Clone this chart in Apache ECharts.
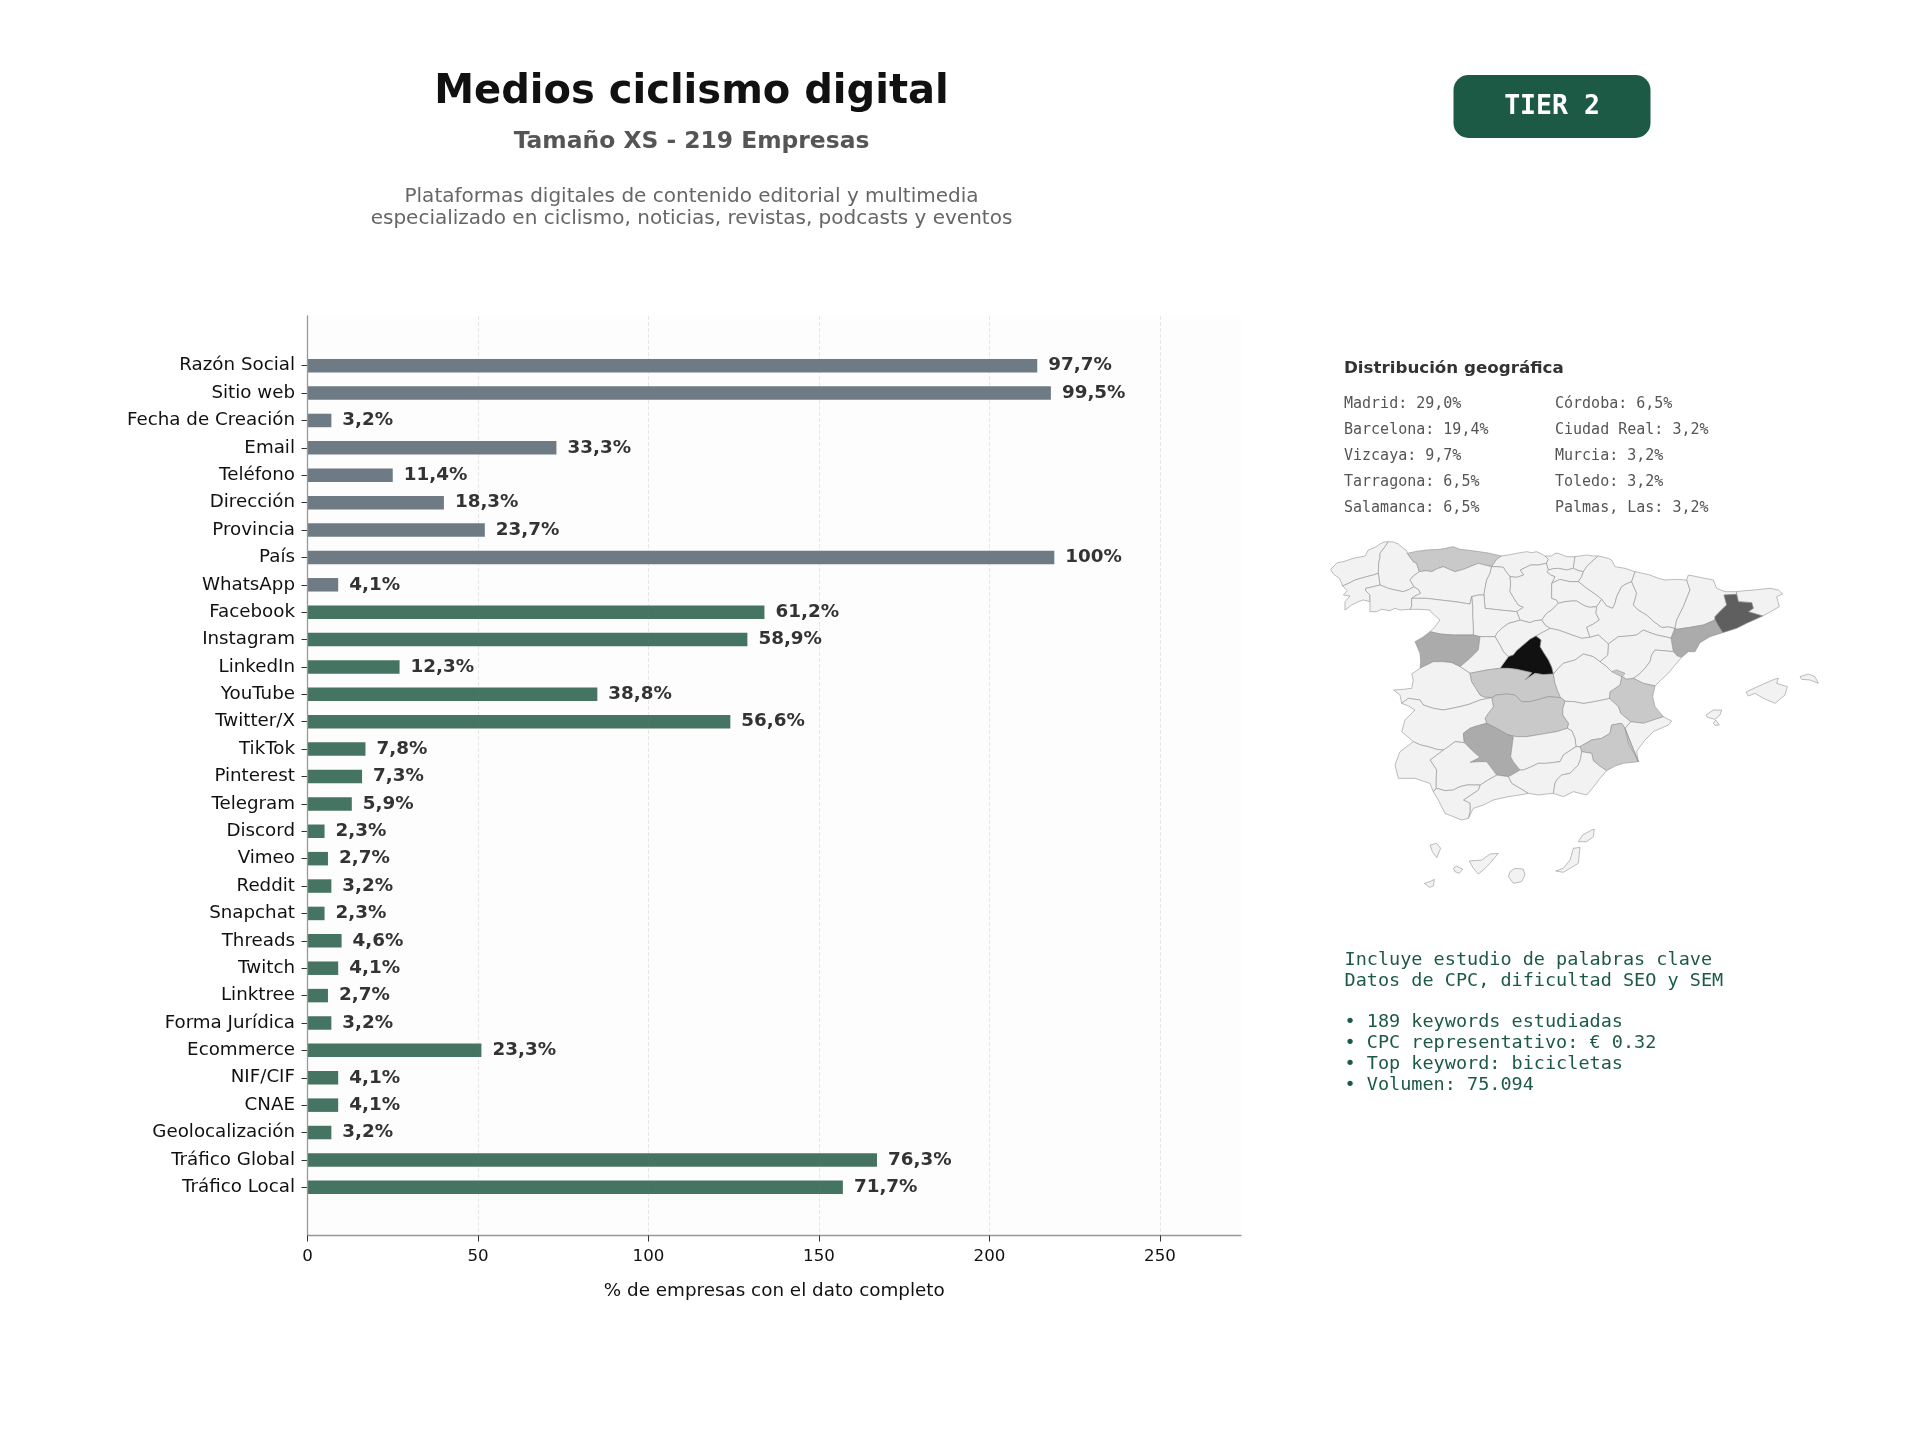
<!DOCTYPE html>
<html>
<head>
<meta charset="utf-8">
<title>Medios ciclismo digital</title>
<style>html,body{margin:0;padding:0;background:#fff}#chart{width:1920px;height:1440px}</style>
<script src="https://cdn.jsdelivr.net/npm/echarts@6/dist/echarts.min.js"></script>
</head>
<body>
<div id="chart"></div>
<script>
// Company counts per data field, out of 219 companies.
const categories = ['Razón Social','Sitio web','Fecha de Creación','Email','Teléfono','Dirección','Provincia','País','WhatsApp','Facebook','Instagram','LinkedIn','YouTube','Twitter/X','TikTok','Pinterest','Telegram','Discord','Vimeo','Reddit','Snapchat','Threads','Twitch','Linktree','Forma Jurídica','Ecommerce','NIF/CIF','CNAE','Geolocalización','Tráfico Global','Tráfico Local'];
const counts = [214,218,7,73,25,40,52,219,9,134,129,27,85,124,17,16,13,5,6,7,5,10,9,6,7,51,9,9,7,167,157];
const percentLabels = ['97,7%','99,5%','3,2%','33,3%','11,4%','18,3%','23,7%','100%','4,1%','61,2%','58,9%','12,3%','38,8%','56,6%','7,8%','7,3%','5,9%','2,3%','2,7%','3,2%','2,3%','4,6%','4,1%','2,7%','3,2%','23,3%','4,1%','4,1%','3,2%','76,3%','71,7%'];
const contactFieldCount = 9; // the first rows are contact fields, drawn in slate
const xTicks = [0,50,100,150,200,250];
const xMax = 273.75;

const geoHeading = 'Distribución geográfica';
const geoColumnA = ['Madrid: 29,0%','Barcelona: 19,4%','Vizcaya: 9,7%','Tarragona: 6,5%','Salamanca: 6,5%'];
const geoColumnB = ['Córdoba: 6,5%','Ciudad Real: 3,2%','Murcia: 3,2%','Toledo: 3,2%','Palmas, Las: 3,2%'];
const keywordNotes = ['Incluye estudio de palabras clave','Datos de CPC, dificultad SEO y SEM','','• 189 keywords estudiadas','• CPC representativo: € 0.32','• Top keyword: bicicletas','• Volumen: 75.094'];

// Share of companies by province as shaded on the map.
const mapShares = {Madrid:29, Barcelona:19.4, Tarragona:6.5, Salamanca:6.5, 'Córdoba':6.5, 'Ciudad Real':3.2, Murcia:3.2, Toledo:3.2, Asturias:3.2, Valencia:3.2};

// Hand-traced map geometry: every shared boundary is stored once and reused by both neighbours.
// Drawing frame has x to the right and y downward, three units to a page pixel.
const borderLines = {
  cor_sea:[[265,65],[252,66],[240,72],[225,82],[205,90],[195,108],[175,112],[160,115],[130,125],[112,128],[92,148],[100,162],[118,175],[125,190],[128,198]],
  cor_pon:[[128,198],[150,188],[165,180],[200,170],[220,165],[235,160]],
  cor_lug:[[235,160],[236,130],[240,112],[240,100],[255,80],[265,65]],
  lug_nor:[[265,65],[280,66],[295,72],[310,85],[320,92],[322,100]],
  lug_ast:[[322,100],[340,125],[350,130],[358,155]],
  lug_leo:[[358,155],[340,168],[330,180],[342,200]],
  lug_our:[[240,195],[265,205],[285,210],[310,215],[328,208],[342,200]],
  lug_pon:[[235,160],[240,195]],
  pon_our:[[210,245],[210,225],[197,212],[197,205],[220,200],[240,195]],
  pon_sea:[[210,245],[190,240],[175,245],[155,255],[135,270],[135,245],[150,228],[130,225],[142,212],[128,198]],
  leo_our:[[342,200],[355,208],[362,220],[345,228],[335,235]],
  our_zam:[[335,235],[335,258],[330,268]],
  our_sea:[[330,268],[300,270],[285,265],[270,272],[245,268],[230,275],[210,275],[210,245]],
  ast_nor:[[322,100],[350,94],[380,90],[420,88],[460,80],[480,88],[500,90],[530,94],[560,98],[605,108]],
  ast_can:[[575,140],[590,118],[605,108]],
  ast_leo:[[358,155],[380,152],[395,155],[412,146],[430,140],[448,148],[465,155],[490,148],[510,140],[535,130],[555,135],[575,140]],
  can_nor:[[605,108],[630,104],[650,100],[680,95],[695,98],[710,95],[725,102],[735,108]],
  can_viz:[[735,108],[745,118],[739,130]],
  can_bur:[[630,170],[650,172],[671,165],[661,150],[692,135],[715,135],[739,130]],
  can_pal:[[575,140],[590,140],[610,142],[618,155],[630,170]],
  leo_pal:[[575,140],[570,160],[560,180],[555,205],[552,225]],
  leo_val:[[552,225],[535,225],[515,230]],
  leo_zam:[[515,230],[510,252],[465,245],[420,240],[380,235],[335,235]],
  pal_bur:[[630,170],[632,190],[630,215],[645,240],[655,255],[670,262],[650,275]],
  pal_val:[[552,225],[555,265],[600,270],[650,275]],
  viz_nor:[[735,108],[755,108],[765,100],[775,100],[800,110],[825,110]],
  viz_gui:[[825,110],[822,130],[820,145]],
  viz_ala:[[745,150],[760,146],[775,145],[800,150],[820,145]],
  viz_bur:[[739,130],[745,150]],
  gui_nor:[[825,110],[860,105],[880,108],[895,108]],
  gui_nav:[[895,108],[875,125],[860,140],[850,155]],
  gui_ala:[[820,145],[835,152],[850,155]],
  ala_nav:[[850,155],[845,170],[835,185]],
  ala_rio:[[755,190],[780,178],[795,182],[810,185],[835,185]],
  bur_ala:[[745,150],[740,155],[752,165],[765,170],[755,190]],
  nav_nor:[[895,108],[925,115],[935,120],[945,140],[975,145],[1005,155]],
  nav_hue:[[1005,155],[995,185]],
  nav_zar:[[995,185],[978,192],[965,200],[950,230],[945,250],[938,265],[920,258],[905,238]],
  nav_rio:[[835,185],[860,205],[885,222],[905,238]],
  bur_rio:[[755,190],[755,235],[770,240],[775,250]],
  bur_sor:[[775,250],[755,270],[740,280],[725,300]],
  bur_seg:[[660,300],[690,308],[705,302],[725,300]],
  bur_val:[[660,300],[650,275]],
  rio_zar:[[905,238],[890,260]],
  rio_sor:[[775,250],[795,245],[815,243],[830,243],[855,258],[870,262],[890,260]],
  sor_zar:[[890,260],[888,280],[898,300],[880,312],[860,322],[870,352]],
  sor_gua:[[870,352],[845,355],[816,345],[775,330],[750,325]],
  seg_sor:[[725,300],[735,315],[750,325]],
  zar_ter:[[925,372],[955,350],[985,348],[1010,345],[1030,330],[1050,338],[1070,345],[1095,350],[1113,355]],
  zar_gua:[[870,352],[895,345],[910,358],[925,372]],
  zar_tar:[[1113,355],[1125,325]],
  hue_nor:[[1005,155],[1050,165],[1075,175],[1095,180],[1130,178],[1160,180]],
  hue_lle:[[1160,180],[1170,210],[1150,260],[1130,300],[1125,325]],
  hue_zar:[[1125,325],[1105,320],[1085,322],[1062,305],[1040,285],[1015,270],[1000,255],[1010,220],[995,185]],
  lle_nor:[[1160,180],[1165,165],[1200,172],[1240,180],[1250,205],[1275,215],[1310,215]],
  lle_gir:[[1310,215],[1310,223]],
  lle_bar:[[1310,223],[1272,225],[1280,255],[1262,272],[1245,290],[1245,300]],
  lle_tar:[[1245,300],[1210,315],[1170,322],[1130,328],[1125,325]],
  gir_sea:[[1310,215],[1335,212],[1360,210],[1410,205],[1435,210],[1448,222],[1430,230],[1438,260],[1412,275],[1388,288]],
  bar_gir:[[1310,223],[1315,245],[1355,248],[1360,265],[1345,275],[1388,288]],
  bar_sea:[[1388,288],[1340,310],[1310,325],[1268,338]],
  bar_tar:[[1245,300],[1255,318],[1268,338]],
  tar_sea:[[1268,338],[1230,350],[1200,368],[1185,395],[1165,395],[1145,412]],
  tar_cas:[[1120,395],[1132,408],[1145,412]],
  ter_tar:[[1113,355],[1120,395]],
  ter_cas:[[1120,395],[1090,392],[1065,390],[1055,405],[1050,425],[1035,445],[1015,465],[1000,475]],
  ter_val:[[965,470],[980,478],[1000,475]],
  cue_ter:[[900,425],[920,440],[935,455],[965,470]],
  gua_ter:[[900,425],[923,405],[925,372]],
  cas_sea:[[1145,412],[1125,435],[1105,460],[1085,478],[1065,498]],
  cas_val:[[1065,498],[1030,490],[1000,475]],
  val_sea:[[1065,498],[1058,530],[1065,560],[1090,590]],
  val_ali:[[1090,590],[1060,600],[1030,610],[992,605]],
  val_alb:[[992,605],[962,580],[955,560],[928,535]],
  cue_val:[[965,470],[960,495],[930,515],[928,535]],
  ali_sea:[[1090,590],[1115,603],[1105,615],[1060,635],[1035,660],[1020,680],[1010,695],[1015,725]],
  ali_mur:[[1015,725],[1005,705],[985,670],[975,625]],
  ali_alb:[[975,625],[992,605]],
  cue_alb:[[928,535],[905,540],[880,545],[850,550],[825,545],[795,543]],
  alb_cr:[[795,543],[788,565],[788,585],[805,610],[802,625]],
  alb_jae:[[802,625],[815,632],[825,655],[828,680]],
  alb_gra:[[828,680],[840,680]],
  alb_mur:[[975,625],[965,610],[935,615],[930,640],[905,655],[875,660],[840,680]],
  mur_gra:[[840,680],[845,695]],
  mur_alm:[[920,752],[895,735],[880,722],[875,700],[845,695]],
  mur_sea:[[1015,725],[970,730],[945,738],[920,752]],
  seg_gua:[[750,325],[725,338],[708,348]],
  mad_gua:[[708,348],[723,360],[720,380],[732,400],[745,420],[755,442],[760,462]],
  gua_cue:[[760,462],[775,445],[790,430],[825,420],[850,402],[880,410],[900,425]],
  seg_mad:[[708,348],[690,358],[670,375],[650,392],[640,405],[625,410]],
  avi_seg:[[585,350],[600,375],[610,395],[625,410]],
  seg_val:[[660,300],[625,310],[605,325],[590,340],[585,350]],
  avi_mad:[[625,410],[612,428],[600,445]],
  tol_mad:[[600,445],[625,445],[650,448],[695,458],[675,480],[705,460],[730,464],[760,462]],
  avi_val:[[585,350],[560,350],[540,350]],
  sal_val:[[540,350],[520,345]],
  zam_val:[[520,345],[520,325],[518,290],[518,260],[515,230]],
  sal_zam:[[520,345],[490,345],[460,345],[420,342],[390,335]],
  zam_sea:[[390,335],[405,320],[420,300],[392,275],[390,270],[360,268],[330,268]],
  avi_sal:[[540,350],[535,390],[520,405],[510,415],[480,440]],
  cac_sal:[[480,440],[455,428],[430,425],[400,425],[380,435],[360,445]],
  sal_sea:[[360,445],[362,425],[360,400],[345,365],[368,352],[390,335]],
  avi_cac:[[480,440],[510,460]],
  cac_tol:[[510,460],[515,485],[528,505],[540,525],[550,530],[575,533]],
  bad_cac:[[305,550],[325,535],[360,540],[370,555],[400,565],[430,570],[480,560],[510,552],[540,540],[575,533]],
  cac_sea:[[305,550],[300,525],[281,510],[310,508],[335,505],[340,480],[335,462],[360,445]],
  avi_tol:[[510,460],[535,455],[560,450],[600,445]],
  cue_tol:[[760,462],[765,490],[772,510],[782,533]],
  cr_tol:[[575,533],[590,525],[620,522],[645,525],[665,545],[690,545],[710,540],[745,530],[782,533]],
  cue_cr:[[795,543],[782,533]],
  jae_cr:[[625,645],[650,650],[680,650],[710,645],[740,640],[770,635],[802,625]],
  cor_cr:[[560,610],[590,625],[625,645]],
  bad_cr:[[575,533],[580,560],[565,580],[555,595],[560,610]],
  bad_cor:[[560,610],[530,618],[510,625],[490,640],[493,668]],
  bad_sev:[[430,690],[448,678],[465,665],[493,668]],
  bad_hue:[[340,665],[362,675],[385,680],[410,688],[430,690]],
  bad_sea:[[340,665],[305,635],[315,600],[345,570],[325,558],[305,550]],
  cor_jae:[[625,645],[640,650],[636,680],[632,710],[640,725],[660,750]],
  cor_gra:[[660,750],[640,762],[625,770]],
  cor_mal:[[590,765],[625,770]],
  cor_sev:[[493,668],[520,695],[540,712],[510,727],[535,725],[560,725],[575,745],[590,765]],
  jae_gra:[[828,680],[805,695],[790,705],[780,725],[740,730],[715,730],[690,742],[670,750],[660,750]],
  gra_alm:[[845,695],[842,715],[835,735],[810,760],[785,765],[770,780],[765,790],[760,820]],
  gra_sea:[[685,820],[715,825],[740,822],[760,820]],
  gra_mal:[[625,770],[635,790],[660,805],[685,820]],
  alm_sea:[[760,820],[790,830],[820,815],[860,825],[885,795],[900,775],[920,752]],
  mal_sea:[[505,895],[520,865],[550,855],[580,840],[625,830],[660,825],[685,820]],
  cad_mal:[[540,795],[535,810],[490,840],[510,850],[510,875],[505,895]],
  sev_mal:[[540,795],[560,782],[590,765]],
  cad_sev:[[400,815],[410,805],[435,812],[460,810],[480,800],[500,795],[520,795],[540,795]],
  hue_sev:[[430,690],[410,705],[390,720],[410,750],[408,780],[408,805],[400,815]],
  hue_sea:[[400,815],[390,790],[365,782],[345,775],[295,775],[285,735],[300,695],[340,665]],
  cad_sea:[[505,895],[485,900],[460,890],[435,880],[415,840],[400,815]],
  rincon:[[935,455],[950,450],[975,460],[965,472],[945,465]],
  mallorca:[[1338,516],[1390,492],[1425,477],[1435,475],[1430,490],[1462,500],[1455,525],[1425,550],[1390,535],[1365,520],[1345,528]],
  menorca:[[1500,470],[1525,462],[1545,470],[1555,490],[1530,480],[1505,478]],
  ibiza:[[1218,585],[1240,570],[1265,570],[1260,585],[1245,598],[1222,592]],
  formentera:[[1240,610],[1247,600],[1258,615],[1245,616]],
  lanzarote:[[835,965],[848,945],[875,930],[883,928],[880,950],[860,965]],
  fuerteventura:[[767,1053],[790,1045],[810,1020],[820,985],[840,982],[835,1030],[810,1045],[790,1057]],
  granCanaria:[[625,1070],[630,1055],[645,1045],[670,1047],[675,1065],[665,1085],[640,1090]],
  tenerife:[[508,1023],[545,1020],[570,1002],[595,1000],[570,1030],[550,1050],[535,1062],[520,1045]],
  gomera:[[460,1045],[470,1038],[488,1048],[478,1060],[465,1055]],
  laPalma:[[390,975],[410,970],[422,985],[410,1013],[397,995]],
  hierro:[[373,1090],[390,1085],[403,1078],[400,1098],[388,1102]]
};

// Each province lists its rings as boundaries in walking order; a leading '-' walks one backwards.
const provinceRings = {
  'A Coruña':[['cor_sea','cor_pon','cor_lug']],
  'Lugo':[['lug_nor','lug_ast','lug_leo','-lug_our','-lug_pon','cor_lug']],
  'Pontevedra':[['cor_pon','lug_pon','-pon_our','pon_sea']],
  'Ourense':[['lug_our','leo_our','our_zam','our_sea','pon_our']],
  'Asturias':[['ast_nor','-ast_can','-ast_leo','-lug_ast']],
  'Cantabria':[['can_nor','can_viz','-can_bur','-can_pal','ast_can']],
  'León':[['ast_leo','leo_pal','leo_val','leo_zam','-leo_our','-lug_leo']],
  'Palencia':[['can_pal','pal_bur','-pal_val','-leo_pal']],
  'Vizcaya':[['viz_nor','viz_gui','-viz_ala','-viz_bur','-can_viz']],
  'Guipúzcoa':[['gui_nor','gui_nav','-gui_ala','-viz_gui']],
  'Álava':[['viz_ala','gui_ala','ala_nav','-ala_rio','-bur_ala']],
  'Navarra':[['nav_nor','nav_hue','nav_zar','-nav_rio','-ala_nav','-gui_nav']],
  'Burgos':[['can_bur','viz_bur','bur_ala','bur_rio','bur_sor','-bur_seg','bur_val','-pal_bur']],
  'La Rioja':[['ala_rio','nav_rio','rio_zar','-rio_sor','-bur_rio']],
  'Soria':[['rio_sor','sor_zar','sor_gua','-seg_sor','-bur_sor']],
  'Zaragoza':[['-nav_zar','-hue_zar','-zar_tar','-zar_ter','-zar_gua','-sor_zar','-rio_zar']],
  'Huesca':[['hue_nor','hue_lle','hue_zar','-nav_hue']],
  'Lleida':[['lle_nor','lle_gir','lle_bar','lle_tar','-hue_lle']],
  'Girona':[['gir_sea','-bar_gir','-lle_gir']],
  'Barcelona':[['bar_gir','bar_sea','-bar_tar','-lle_bar']],
  'Tarragona':[['bar_tar','tar_sea','-tar_cas','-ter_tar','zar_tar','-lle_tar']],
  'Teruel':[['zar_ter','ter_tar','ter_cas','-ter_val','-cue_ter','gua_ter']],
  'Castellón':[['tar_cas','cas_sea','cas_val','-ter_cas']],
  'Valencia':[['ter_val','-cas_val','val_sea','val_ali','val_alb','-cue_val'],['rincon']],
  'Alicante':[['-val_ali','ali_sea','ali_mur','ali_alb']],
  'Albacete':[['cue_alb','alb_cr','alb_jae','alb_gra','-alb_mur','ali_alb','val_alb']],
  'Murcia':[['alb_mur','mur_gra','-mur_alm','-mur_sea','-ali_mur']],
  'Guadalajara':[['seg_gua','mad_gua','gua_cue','gua_ter','-zar_gua','sor_gua']],
  'Segovia':[['bur_seg','seg_sor','seg_gua','seg_mad','-avi_seg','-seg_val']],
  'Madrid':[['mad_gua','-tol_mad','-avi_mad','-seg_mad']],
  'Valladolid':[['-leo_val','pal_val','-bur_val','seg_val','avi_val','sal_val','zam_val']],
  'Zamora':[['-leo_zam','-zam_val','sal_zam','zam_sea','-our_zam']],
  'Salamanca':[['-sal_zam','-sal_val','avi_sal','cac_sal','sal_sea']],
  'Ávila':[['-avi_val','avi_seg','avi_mad','-avi_tol','-avi_cac','-avi_sal']],
  'Cáceres':[['-cac_sal','avi_cac','cac_tol','-bad_cac','cac_sea']],
  'Toledo':[['avi_tol','tol_mad','cue_tol','-cr_tol','-cac_tol']],
  'Cuenca':[['gua_cue','cue_ter','cue_val','cue_alb','cue_cr','-cue_tol']],
  'Ciudad Real':[['cr_tol','-cue_cr','alb_cr','-jae_cr','-cor_cr','-bad_cr']],
  'Badajoz':[['bad_cac','bad_cr','bad_cor','-bad_sev','-bad_hue','bad_sea']],
  'Córdoba':[['cor_cr','cor_jae','cor_gra','-cor_mal','-cor_sev','-bad_cor']],
  'Jaén':[['jae_cr','alb_jae','jae_gra','-cor_jae']],
  'Granada':[['-jae_gra','alb_gra','mur_gra','gra_alm','-gra_sea','-gra_mal','-cor_gra']],
  'Almería':[['-gra_alm','-mur_alm','-alm_sea']],
  'Málaga':[['cor_mal','gra_mal','-mal_sea','-cad_mal','sev_mal']],
  'Sevilla':[['bad_sev','cor_sev','-sev_mal','-cad_sev','-hue_sev']],
  'Huelva':[['hue_sev','hue_sea','bad_hue']],
  'Cádiz':[['cad_sev','cad_mal','cad_sea']],
  'Baleares':[['mallorca'],['menorca'],['ibiza'],['formentera']],
  'Palmas, Las':[['lanzarote'],['fuerteventura'],['granCanaria']],
  'Santa Cruz de Tenerife':[['tenerife'],['gomera'],['laPalma'],['hierro']]
};

// Where the drawing frame sits on the page.
const mapUnitsPerPixel = 3, mapOriginX = 1300, mapOriginY = 520;

const walkRing = names => {
  const ring = names.flatMap(n => n[0] === '-' ? [...borderLines[n.slice(1)]].reverse() : borderLines[n]);
  return ring.concat([ring[0]]);
};
const features = Object.keys(provinceRings).map(name => ({
  type: 'Feature',
  properties: { name },
  geometry: { type: 'MultiPolygon', coordinates: provinceRings[name].map(r => [walkRing(r)]) }
}));
echarts.registerMap('provincias', { type: 'FeatureCollection', features });

const allPoints = Object.values(borderLines).flat();
const minX = Math.min(...allPoints.map(p => p[0])), maxX = Math.max(...allPoints.map(p => p[0]));
const minY = Math.min(...allPoints.map(p => p[1])), maxY = Math.max(...allPoints.map(p => p[1]));

const FONT = '"DejaVu Sans"', MONO = '"DejaVu Sans Mono"';
const centerText = (text, x, y, font, fill) => ({ type: 'text', silent: true, style: { text, x, y, font, fill, textAlign: 'center', textVerticalAlign: 'middle' } });
const leftText = (text, x, y, font, fill) => ({ type: 'text', silent: true, style: { text, x, y, font, fill, textAlign: 'left', textVerticalAlign: 'middle' } });

const graphics = [
  centerText('Medios ciclismo digital', 691.5, 92.5, `bold 40px ${FONT}`, '#111111'),
  centerText('Tamaño XS - 219 Empresas', 691.5, 141.5, `bold 23.4px ${FONT}`, '#555555'),
  centerText('Plataformas digitales de contenido editorial y multimedia', 691.5, 197, `20px ${FONT}`, '#666666'),
  centerText('especializado en ciclismo, noticias, revistas, podcasts y eventos', 691.5, 219, `20px ${FONT}`, '#666666'),
  { type: 'rect', silent: true, shape: { x: 1453.5, y: 75, width: 197, height: 63, r: 15 }, style: { fill: '#1d5a45' } },
  centerText('TIER 2', 1552, 107.5, `bold 26.5px ${MONO}`, '#ffffff'),
  leftText(geoHeading, 1344, 368.5, `bold 16.7px ${FONT}`, '#333333'),
  ...geoColumnA.map((t, i) => leftText(t, 1344, 404.3 + i * 26, `15px ${MONO}`, '#555555')),
  ...geoColumnB.map((t, i) => leftText(t, 1555, 404.3 + i * 26, `15px ${MONO}`, '#555555')),
  ...keywordNotes.map((t, i) => leftText(t, 1344.5, 960 + i * 20.8, `18.5px ${MONO}`, '#1d5a45'))
];

const chart = echarts.init(document.getElementById('chart'), null, { renderer: 'canvas' });
chart.setOption({
  animation: false,
  backgroundColor: '#ffffff',
  graphic: graphics,
  grid: [
    { left: 307.5, top: 316, width: 933.5, height: 919.5, show: true, backgroundColor: '#fdfdfd', borderWidth: 0 },
    { left: 307.5, top: 352, width: 933.5, height: 849 }
  ],
  xAxis: [
    {
      gridIndex: 0, type: 'value', min: 0, max: xMax, z: 3,
      name: '% de empresas con el dato completo', nameLocation: 'middle', nameGap: 47,
      nameTextStyle: { fontFamily: 'DejaVu Sans', fontSize: 18.33, color: '#111' },
      axisLine: { show: true, onZero: false, lineStyle: { color: '#999999', width: 1.3 } },
      axisTick: { show: true, length: 6, customValues: xTicks, lineStyle: { color: '#333' } },
      axisLabel: { show: true, customValues: xTicks, margin: 13, fontFamily: 'DejaVu Sans', fontSize: 16.67, color: '#111' },
      splitLine: { show: true, lineStyle: { color: 'rgba(120,120,120,0.16)', type: 'dashed', width: 1 } }
    },
    { gridIndex: 1, type: 'value', min: 0, max: xMax, show: false }
  ],
  yAxis: [
    {
      gridIndex: 0, type: 'value', min: 0, max: 1, z: 3,
      axisLine: { show: true, lineStyle: { color: '#999999', width: 1.3 } },
      axisTick: { show: false }, axisLabel: { show: false }, splitLine: { show: false }
    },
    {
      gridIndex: 1, type: 'category', inverse: true, data: categories,
      axisLine: { show: false },
      axisTick: { show: true, length: 6, alignWithLabel: true, lineStyle: { color: '#333' } },
      axisLabel: { interval: 0, margin: 12.5, padding: [7, 0, 0, 0], fontFamily: 'DejaVu Sans', fontSize: 18.25, color: '#111' }
    }
  ],
  visualMap: {
    type: 'piecewise', show: false, seriesIndex: 1, dimension: 0,
    pieces: [
      { value: 0, color: '#f2f2f2' },
      { value: 3.2, color: '#c9c9c9' },
      { value: 6.5, color: '#ababab' },
      { value: 19.4, color: '#5f5f5f' },
      { value: 29, color: '#111111' }
    ]
  },
  series: [
    {
      type: 'bar', xAxisIndex: 1, yAxisIndex: 1, barWidth: 13.5, z: 2, silent: true,
      data: counts.map((value, i) => ({ value, itemStyle: { color: i < contactFieldCount ? '#6e7b84' : '#467462' } })),
      label: {
        show: true, position: 'right', distance: 11,
        formatter: p => percentLabels[p.dataIndex],
        fontFamily: 'DejaVu Sans', fontWeight: 'bold', fontSize: 18.33, color: '#333333'
      }
    },
    {
      type: 'map', map: 'provincias', silent: true, roam: false,
      projection: { project: p => [p[0] / mapUnitsPerPixel, p[1] / mapUnitsPerPixel], unproject: p => [p[0] * mapUnitsPerPixel, p[1] * mapUnitsPerPixel] },
      left: mapOriginX + minX / mapUnitsPerPixel, top: mapOriginY + minY / mapUnitsPerPixel,
      width: (maxX - minX) / mapUnitsPerPixel, height: (maxY - minY) / mapUnitsPerPixel,
      label: { show: false },
      itemStyle: { borderColor: '#929292', borderWidth: 0.6, areaColor: '#f2f2f2' },
      data: Object.keys(provinceRings).map(name => ({ name, value: mapShares[name] || 0 }))
    }
  ]
});
</script>
</body>
</html>
